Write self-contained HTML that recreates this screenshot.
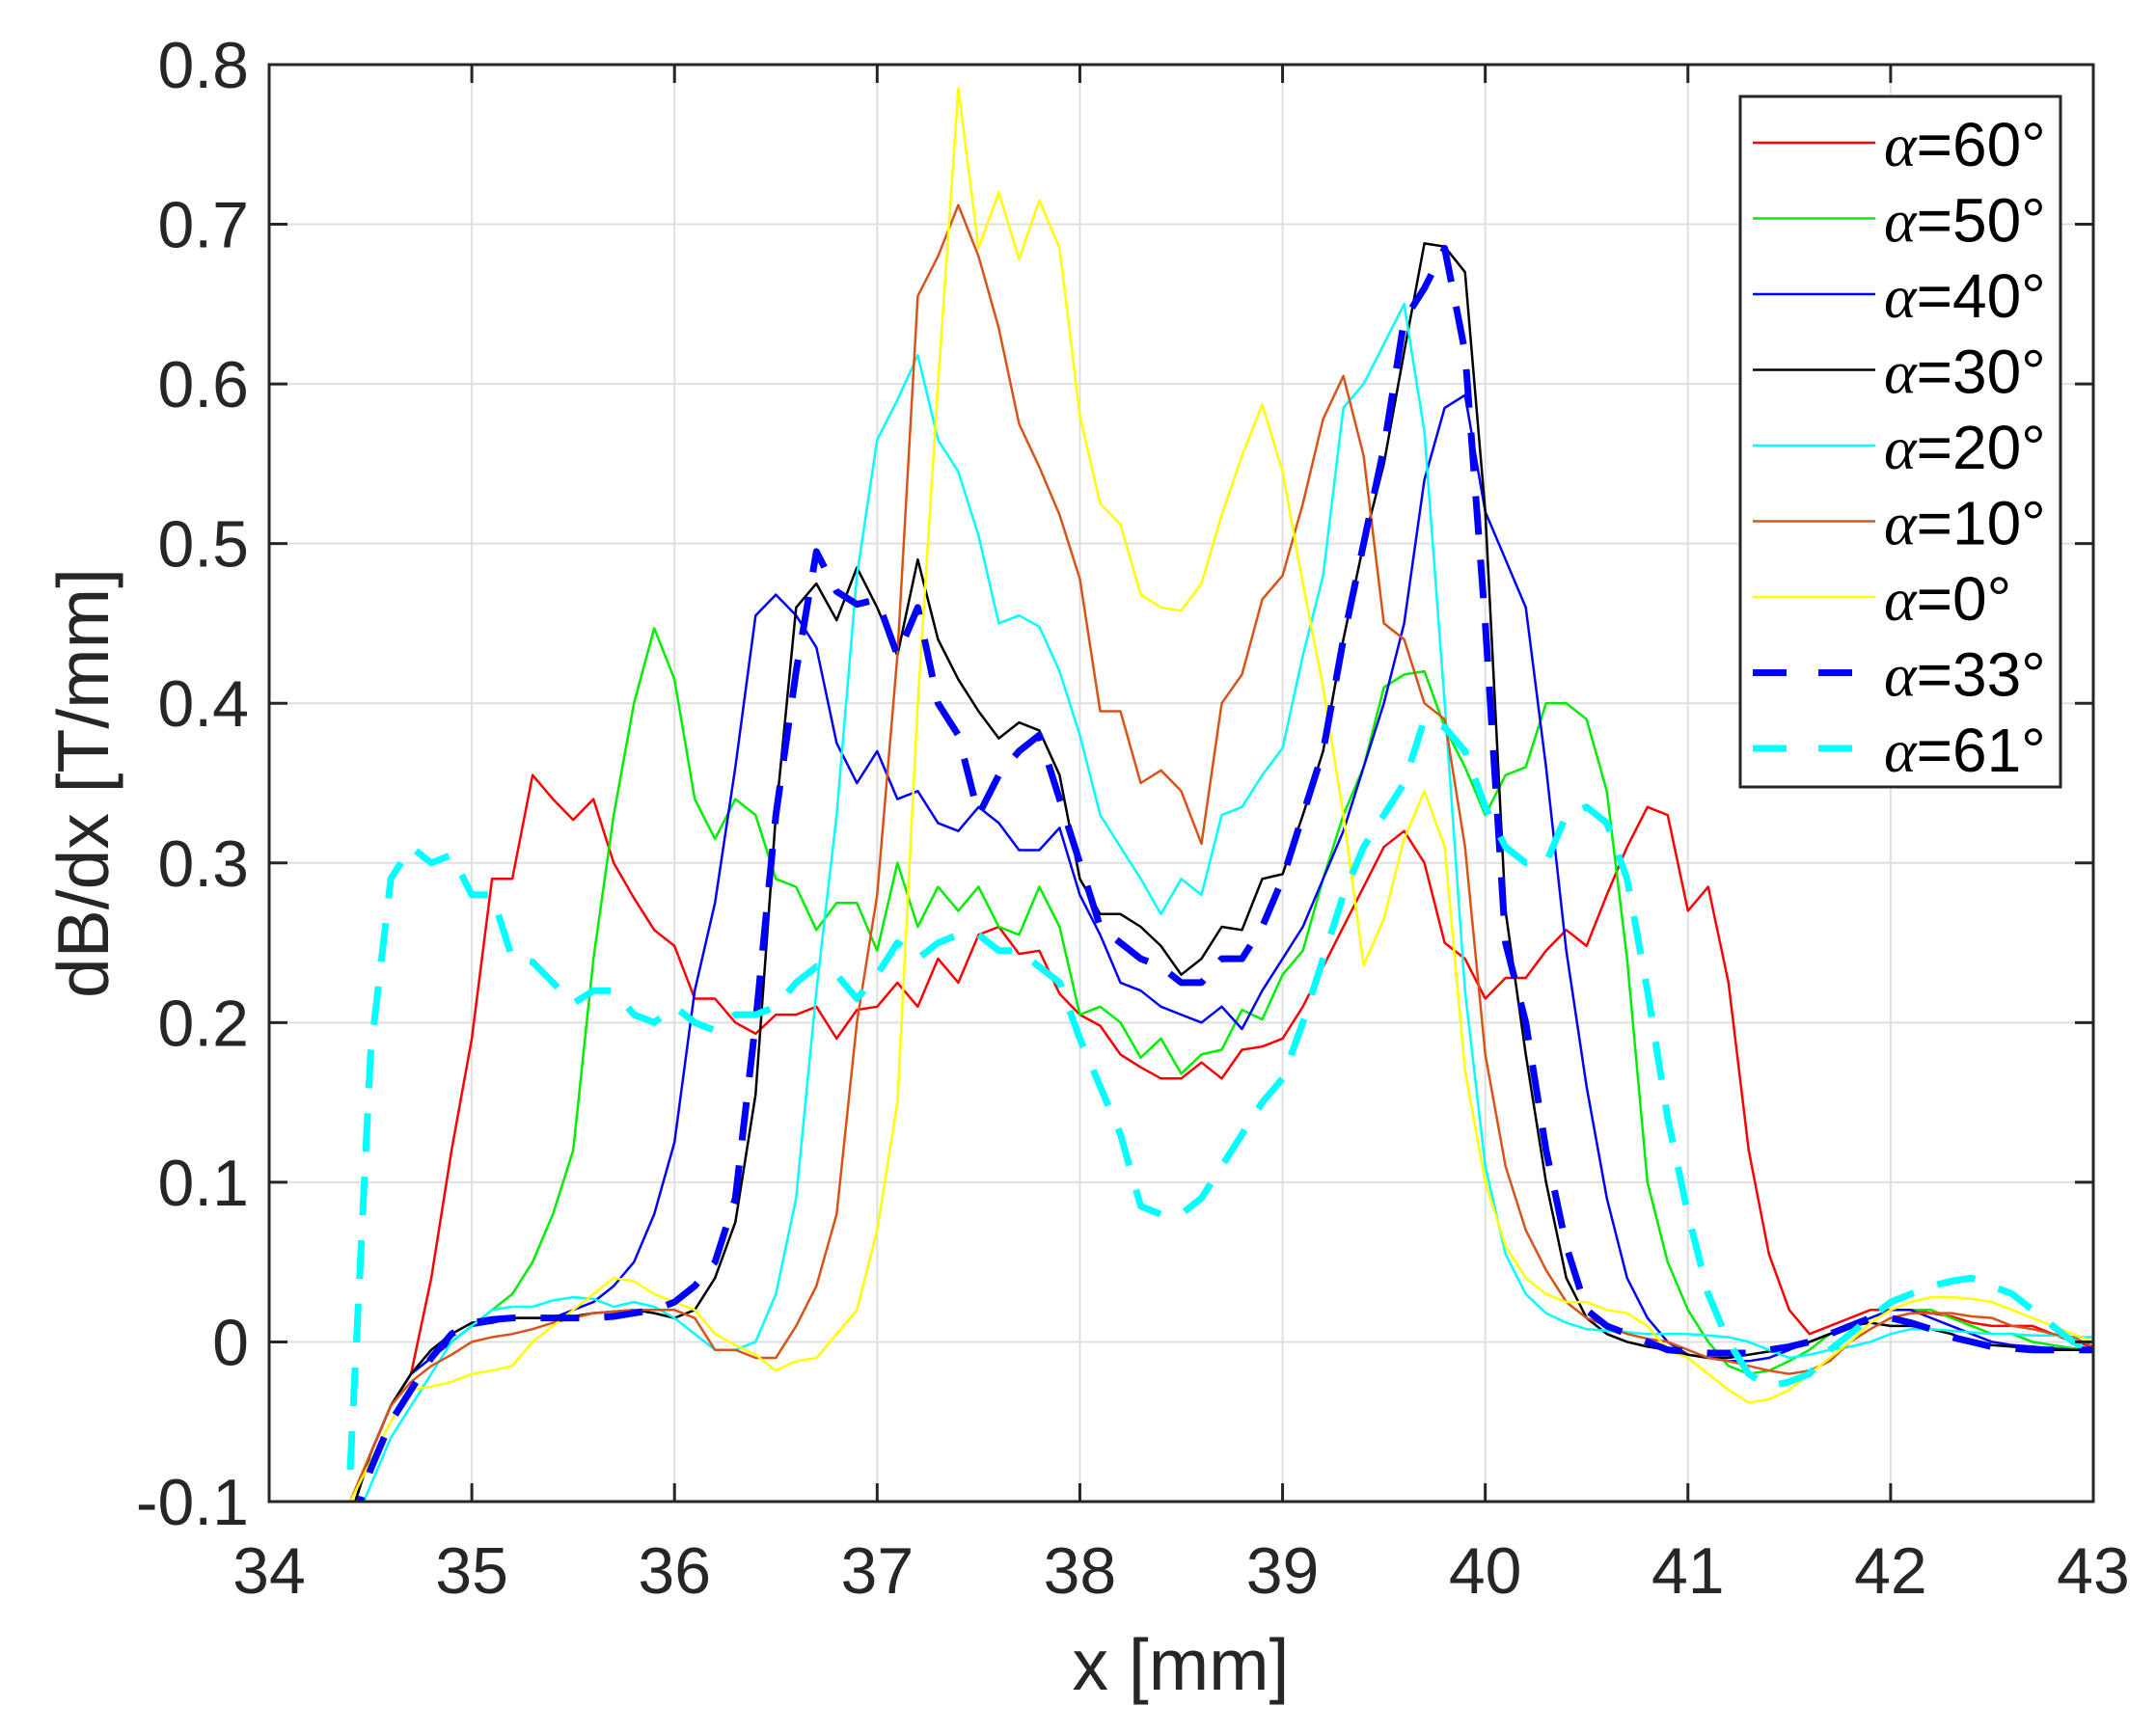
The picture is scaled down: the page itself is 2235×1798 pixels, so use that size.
<!DOCTYPE html>
<html><head><meta charset="utf-8"><style>
html,body{margin:0;padding:0;background:#fff;}
svg{display:block;font-family:"Liberation Sans",Arial,sans-serif;}
</style></head><body>
<svg id="chart" width="2235" height="1798" viewBox="0 0 2235 1798" xmlns="http://www.w3.org/2000/svg">
<rect width="2235" height="1798" fill="#fff"/>
<defs><clipPath id="pc"><rect x="279" y="67" width="1891" height="1490"/></clipPath></defs>
<g id="grid"></g>
<g id="series" clip-path="url(#pc)"></g>
<g id="axes"></g>
<text x="1224" y="1752" font-size="75" text-anchor="middle" fill="#262626">x [mm]</text>
<text transform="translate(112,812) rotate(-90)" font-size="75" text-anchor="middle" fill="#262626">dB/dx [T/mm]</text>
<g id="legend"></g>
</svg>
<script>
const xStart = 34.4, xStep = 0.1;
const yTicks = [-0.1,0,0.1,0.2,0.3,0.4,0.5,0.6,0.7,0.8];
const yTickLabels = ["-0.1","0","0.1","0.2","0.3","0.4","0.5","0.6","0.7","0.8"];
const xTicks = [34,35,36,37,38,39,40,41,42,43];
const xTickLabels = ["34","35","36","37","38","39","40","41","42","43"];
const seriesNames = ["α=60°","α=50°","α=40°","α=30°","α=20°","α=10°","α=0°","α=33°","α=61°"];
const a60 = [-0.1,-0.07,-0.04,-0.02,0.04,0.12,0.19,0.29,0.29,0.355,0.34,0.327,0.34,0.30,0.278,0.258,0.248,0.215,0.215,0.20,0.193,0.205,0.205,0.21,0.19,0.208,0.21,0.225,0.21,0.24,0.225,0.255,0.26,0.243,0.245,0.218,0.205,0.198,0.18,0.172,0.165,0.165,0.175,0.165,0.183,0.185,0.19,0.21,0.235,0.26,0.285,0.31,0.32,0.30,0.25,0.24,0.215,0.228,0.228,0.245,0.258,0.248,0.28,0.31,0.335,0.33,0.27,0.285,0.225,0.12,0.055,0.02,0.005,0.01,0.015,0.02,0.02,0.02,0.018,0.016,0.012,0.01,0.01,0.01,0.005,0.0,-0.003];
const a50 = [-0.1,-0.07,-0.04,-0.02,-0.01,0.0,0.01,0.02,0.03,0.05,0.08,0.12,0.24,0.33,0.40,0.447,0.415,0.34,0.315,0.34,0.33,0.29,0.285,0.258,0.275,0.275,0.245,0.30,0.26,0.285,0.27,0.285,0.26,0.255,0.285,0.26,0.205,0.21,0.20,0.178,0.19,0.168,0.18,0.183,0.208,0.202,0.23,0.245,0.29,0.33,0.36,0.41,0.418,0.42,0.385,0.36,0.33,0.355,0.36,0.40,0.40,0.39,0.345,0.24,0.10,0.05,0.02,0.0,-0.015,-0.02,-0.018,-0.012,-0.005,0.005,0.01,0.015,0.02,0.02,0.02,0.015,0.01,0.005,0.005,0.0,-0.002,-0.004,-0.005];
const a40 = [-0.11,-0.07,-0.04,-0.02,-0.01,0.0,0.01,0.012,0.015,0.015,0.015,0.02,0.025,0.035,0.05,0.08,0.125,0.22,0.275,0.36,0.455,0.468,0.455,0.435,0.375,0.35,0.37,0.34,0.345,0.325,0.32,0.335,0.325,0.308,0.308,0.322,0.28,0.255,0.225,0.22,0.21,0.205,0.20,0.21,0.196,0.22,0.24,0.26,0.29,0.32,0.36,0.40,0.45,0.54,0.585,0.593,0.52,0.49,0.46,0.36,0.245,0.16,0.09,0.04,0.015,0.0,-0.008,-0.01,-0.012,-0.012,-0.01,-0.005,0.0,0.005,0.01,0.015,0.02,0.02,0.015,0.01,0.005,0.0,-0.002,-0.003,-0.004,-0.005,-0.005];
const a30 = [-0.11,-0.07,-0.04,-0.02,-0.005,0.005,0.012,0.014,0.015,0.015,0.015,0.016,0.018,0.019,0.02,0.018,0.015,0.02,0.04,0.075,0.155,0.33,0.46,0.475,0.452,0.485,0.46,0.43,0.49,0.44,0.415,0.395,0.378,0.388,0.383,0.355,0.29,0.268,0.268,0.26,0.248,0.23,0.24,0.26,0.258,0.29,0.293,0.33,0.37,0.44,0.50,0.55,0.62,0.688,0.686,0.67,0.52,0.27,0.18,0.10,0.04,0.015,0.005,0.0,-0.003,-0.005,-0.008,-0.01,-0.01,-0.008,-0.006,-0.003,0.0,0.005,0.01,0.012,0.01,0.01,0.008,0.005,0.0,-0.002,-0.003,-0.004,-0.005,-0.005,-0.005];
const a20 = [-0.12,-0.09,-0.06,-0.04,-0.02,0.0,0.01,0.02,0.022,0.022,0.026,0.028,0.027,0.022,0.025,0.022,0.015,0.005,-0.005,-0.005,0.0,0.03,0.09,0.22,0.33,0.48,0.565,0.59,0.618,0.565,0.545,0.505,0.45,0.455,0.448,0.42,0.38,0.33,0.31,0.29,0.268,0.29,0.28,0.33,0.335,0.355,0.372,0.43,0.48,0.585,0.60,0.625,0.65,0.57,0.40,0.22,0.11,0.055,0.03,0.018,0.012,0.008,0.007,0.006,0.005,0.005,0.005,0.004,0.003,0.0,-0.005,-0.01,-0.008,-0.005,-0.003,0.0,0.005,0.008,0.008,0.007,0.006,0.005,0.005,0.004,0.004,0.003,0.003];
const a10 = [-0.1,-0.07,-0.04,-0.025,-0.015,-0.008,0.0,0.003,0.005,0.008,0.012,0.015,0.018,0.019,0.02,0.02,0.02,0.015,-0.005,-0.005,-0.01,-0.01,0.01,0.035,0.08,0.2,0.28,0.43,0.655,0.68,0.712,0.68,0.635,0.575,0.548,0.518,0.478,0.395,0.395,0.35,0.358,0.345,0.312,0.40,0.418,0.465,0.48,0.525,0.578,0.605,0.555,0.45,0.44,0.40,0.39,0.31,0.18,0.11,0.07,0.045,0.025,0.015,0.01,0.005,0.002,0.0,-0.005,-0.01,-0.012,-0.015,-0.018,-0.02,-0.018,-0.012,0.0,0.008,0.015,0.018,0.018,0.018,0.016,0.015,0.01,0.008,0.005,0.003,-0.003];
const a0 = [-0.1,-0.075,-0.05,-0.03,-0.028,-0.025,-0.02,-0.018,-0.015,0.0,0.01,0.02,0.03,0.04,0.038,0.03,0.025,0.02,0.005,-0.002,-0.008,-0.018,-0.012,-0.01,0.005,0.02,0.07,0.15,0.40,0.60,0.785,0.685,0.72,0.678,0.715,0.685,0.58,0.525,0.512,0.468,0.46,0.458,0.475,0.518,0.555,0.587,0.545,0.475,0.41,0.33,0.236,0.265,0.315,0.345,0.31,0.17,0.10,0.06,0.04,0.03,0.025,0.025,0.02,0.018,0.01,-0.005,-0.01,-0.02,-0.03,-0.038,-0.036,-0.03,-0.02,-0.01,0.0,0.012,0.02,0.025,0.028,0.028,0.027,0.025,0.02,0.015,0.01,0.005,0.0];
const a33 = [-0.12,-0.08,-0.05,-0.03,-0.01,0.005,0.012,0.014,0.015,0.015,0.015,0.015,0.015,0.016,0.018,0.02,0.025,0.035,0.05,0.09,0.20,0.33,0.42,0.495,0.47,0.462,0.465,0.43,0.46,0.40,0.38,0.33,0.355,0.37,0.38,0.34,0.30,0.26,0.25,0.24,0.235,0.225,0.225,0.24,0.24,0.26,0.29,0.33,0.37,0.44,0.50,0.56,0.64,0.66,0.685,0.62,0.45,0.25,0.20,0.12,0.06,0.02,0.01,0.005,0.0,-0.005,-0.006,-0.007,-0.007,-0.007,-0.005,-0.003,0.0,0.005,0.01,0.015,0.015,0.012,0.008,0.003,0.0,-0.003,-0.004,-0.005,-0.005,-0.005,-0.005];
const a61 = [-0.08,0.18,0.29,0.31,0.30,0.305,0.28,0.28,0.24,0.238,0.225,0.212,0.22,0.22,0.205,0.20,0.21,0.20,0.195,0.205,0.205,0.21,0.225,0.235,0.23,0.215,0.23,0.25,0.24,0.25,0.255,0.255,0.245,0.245,0.235,0.225,0.19,0.16,0.13,0.085,0.08,0.08,0.09,0.11,0.13,0.15,0.165,0.20,0.24,0.28,0.31,0.33,0.35,0.39,0.385,0.37,0.335,0.31,0.30,0.30,0.33,0.335,0.325,0.29,0.22,0.14,0.08,0.03,0.0,-0.02,-0.028,-0.025,-0.02,-0.005,0.005,0.015,0.025,0.03,0.035,0.038,0.04,0.035,0.03,0.02,0.01,0.0,-0.005];

const NS='http://www.w3.org/2000/svg';
const L=279,R=2170,T=67,B=1557,xMin=34,xMax=43,yMin=-0.1,yMax=0.8;
function sx(v){return L+(v-xMin)/(xMax-xMin)*(R-L);}
function sy(v){return B-(v-yMin)/(yMax-yMin)*(B-T);}
function mk(tag,attrs,parent){const e=document.createElementNS(NS,tag);for(const k in attrs)e.setAttribute(k,attrs[k]);parent.appendChild(e);return e;}
const grid=document.getElementById('grid'),axes=document.getElementById('axes'),ser=document.getElementById('series'),leg=document.getElementById('legend');
xTicks.forEach((t,i)=>{
  const g=mk('line',{x1:sx(t),x2:sx(t),y1:T,y2:B,stroke:'#dfdfdf','stroke-width':2},grid);
  
  
  const tk=mk('line',{x1:sx(t),x2:sx(t),y1:B,y2:B-19,stroke:'#262626','stroke-width':3},axes);
  
  
  const tk2=mk('line',{x1:sx(t),x2:sx(t),y1:T,y2:T+19,stroke:'#262626','stroke-width':3},axes);
  
  
  const tx=mk('text',{x:sx(t),y:1652,'font-size':68,'text-anchor':'middle',fill:'#262626'},axes);
  tx.textContent=xTickLabels[i];
  
  
});
yTicks.forEach((t,i)=>{
  const g=mk('line',{x1:L,x2:R,y1:sy(t),y2:sy(t),stroke:'#dfdfdf','stroke-width':2},grid);
  
  
  const tk=mk('line',{x1:L,x2:L+19,y1:sy(t),y2:sy(t),stroke:'#262626','stroke-width':3},axes);
  
  
  const tk2=mk('line',{x1:R,x2:R-19,y1:sy(t),y2:sy(t),stroke:'#262626','stroke-width':3},axes);
  
  
  const tx=mk('text',{x:258,y:sy(t)+24,'font-size':68,'text-anchor':'end',fill:'#262626'},axes);
  tx.textContent=yTickLabels[i];
  
  
});
const box=mk('rect',{x:L,y:T,width:R-L,height:B-T,fill:'none',stroke:'#262626','stroke-width':3},axes);



const seriesData=[a60,a50,a40,a30,a20,a10,a0,a33,a61];
const colors=['#ff0000','#00ee00','#0000ff','#000000','#00ffff','#d95319','#ffff00','#0000ff','#00ffff'];
const widths=[2.5,2.5,2.5,2.5,2.5,2.5,2.5,7,7];
const dashes=['','','','','','','','40 26','40 26'];
const sNames=['series-alpha-60','series-alpha-50','series-alpha-40','series-alpha-30','series-alpha-20','series-alpha-10','series-alpha-0','series-alpha-33','series-alpha-61'];
seriesData.forEach((arr,s)=>{
  const pts=arr.map((v,i)=>sx(xStart+i*xStep).toFixed(1)+','+sy(v).toFixed(1)).join(' ');
  const p=mk('polyline',{points:pts,fill:'none',stroke:colors[s],'stroke-width':widths[s],'stroke-dasharray':dashes[s],'stroke-linejoin':'round'},ser);
  
  
});
const lb=mk('rect',{x:1804,y:100,width:332,height:716,fill:'#fff',stroke:'#262626','stroke-width':3},leg);


seriesNames.forEach((n,s)=>{
  const y=148+s*78.5;
  const l=mk('line',{x1:1817,x2:1944,y1:y,y2:y,stroke:colors[s],'stroke-width':s>=7?7:2.5,'stroke-dasharray':s>=7?'35 33':''},leg);
  
  
  const t=mk('text',{x:1953,y:y+24,'font-size':64,fill:'#000'},leg);
  
  
  const a=mk('tspan',{'font-family':'"Liberation Serif",serif','font-style':'italic'},t);
  a.textContent='α';
  const r=mk('tspan',{},t);
  r.textContent=n.slice(1);
});
</script>
</body></html>
